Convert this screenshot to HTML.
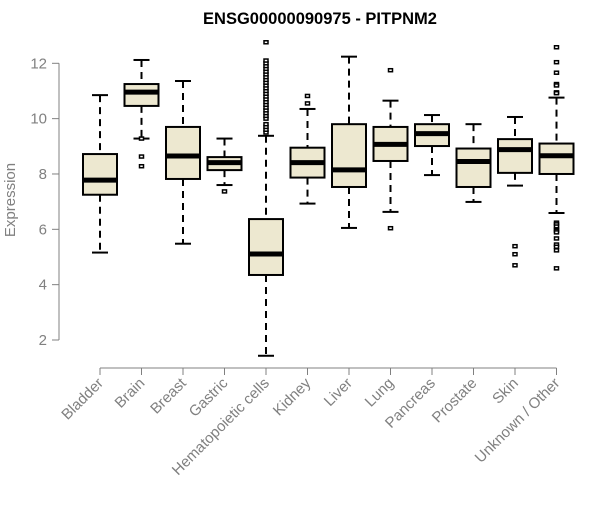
<!DOCTYPE html>
<html><head><meta charset="utf-8"><style>
body{margin:0;background:#fff}
svg{font-family:"Liberation Sans",Arial,sans-serif}
</style></head><body>
<svg id="chart" width="600" height="500" viewBox="0 0 600 500">
<text x="320" y="24" text-anchor="middle" font-weight="bold" font-size="16.5">ENSG00000090975 - PITPNM2</text>
<g id="axes"></g>
<g id="plot"></g>
</svg>
<script>
const categories=["Bladder","Brain","Breast","Gastric","Hematopoietic cells","Kidney","Liver","Lung","Pancreas","Prostate","Skin","Unknown / Other"];
const whiskerLow=[5.16,9.28,5.48,7.6,1.43,6.93,6.05,6.63,7.96,6.99,7.58,6.59];
const q1=[7.25,10.46,7.82,8.14,4.35,7.87,7.53,8.47,9.01,7.53,8.04,8.0];
const medians=[7.78,10.96,8.65,8.41,5.11,8.41,8.15,9.07,9.46,8.45,8.88,8.66];
const q3=[8.72,11.25,9.7,8.61,6.37,8.95,9.8,9.7,9.8,8.92,9.26,9.1];
const whiskerHigh=[10.85,12.12,11.36,9.28,9.38,10.35,12.24,10.65,10.13,9.8,10.06,10.76];
const outliers=[[],[9.28,8.63,8.28],[],[7.37],
[9.5,9.6,9.7,9.8,10.0,10.1,10.2,10.3,10.4,10.5,10.6,10.7,10.8,10.9,11.0,11.1,11.2,11.3,11.4,11.5,11.6,11.7,11.8,11.9,12.0,12.1,12.76],
[10.82,10.55],[],[11.75,6.04],[],[],[5.39,5.1,4.7],
[12.58,12.04,11.66,11.25,11.2,10.95,10.92,6.24,6.18,6.1,6.0,5.95,5.89,5.67,5.45,5.37,5.24,4.59]];
const yTicks=[2,4,6,8,10,12];

const NS="http://www.w3.org/2000/svg";
const y=v=>340-(v-2)*27.67;
const x=i=>100+i*41.5;
const axes=document.getElementById('axes'),plot=document.getElementById('plot');
function mk(tag,attrs,parent){const e=document.createElementNS(NS,tag);for(const k in attrs)e.setAttribute(k,attrs[k]);parent.appendChild(e);return e;}
const G="#808080";
let ya=mk('line',{x1:59,x2:59,y1:y(12),y2:y(2),stroke:G},axes);


yTicks.forEach(t=>{
 let l=mk('line',{x1:52,x2:59,y1:y(t),y2:y(t),stroke:G},axes);
 
 
 let tx=mk('text',{x:47,y:y(t)+5,'text-anchor':'end','font-size':15,fill:G},axes);
 tx.textContent=t;
 
 
});
let yl=mk('text',{x:15,y:200,'text-anchor':'middle','font-size':15,fill:G,transform:'rotate(-90 15 200)'},axes);
yl.textContent='Expression';


let xa=mk('line',{x1:x(0),x2:x(categories.length-1),y1:368,y2:368,stroke:G},axes);


categories.forEach((c,i)=>{
 let l=mk('line',{x1:x(i),x2:x(i),y1:368,y2:375,stroke:G},axes);
 
 
 let tx=mk('text',{x:x(i)+4,y:384,'text-anchor':'end','font-size':15,fill:G,transform:`rotate(-45 ${x(i)+4} 384)`},axes);
 tx.textContent=c;
 
 
 const g=mk('g',{},plot);
 
 
 const cx=x(i);
 mk('line',{x1:cx,x2:cx,y1:y(whiskerHigh[i]),y2:y(q3[i]),stroke:'#000','stroke-width':2,'stroke-dasharray':'7,5'},g);
 mk('line',{x1:cx,x2:cx,y1:y(q1[i]),y2:y(whiskerLow[i]),stroke:'#000','stroke-width':2,'stroke-dasharray':'7,5'},g);
 mk('line',{x1:cx-8,x2:cx+8,y1:y(whiskerHigh[i]),y2:y(whiskerHigh[i]),stroke:'#000','stroke-width':2},g);
 mk('line',{x1:cx-8,x2:cx+8,y1:y(whiskerLow[i]),y2:y(whiskerLow[i]),stroke:'#000','stroke-width':2},g);
 mk('rect',{x:cx-17,y:y(q3[i]),width:34,height:y(q1[i])-y(q3[i]),fill:'#ede8d0',stroke:'#000','stroke-width':2},g);
 mk('line',{x1:cx-16,x2:cx+16,y1:y(medians[i]),y2:y(medians[i]),stroke:'#000','stroke-width':5},g);
 outliers[i].forEach(v=>{
  let r=mk('rect',{x:cx-2,y:y(v)-1.5,width:4,height:3,fill:'#fff',stroke:'#000','stroke-width':1.5},g);
  
  
 });
});
</script>
</body></html>
